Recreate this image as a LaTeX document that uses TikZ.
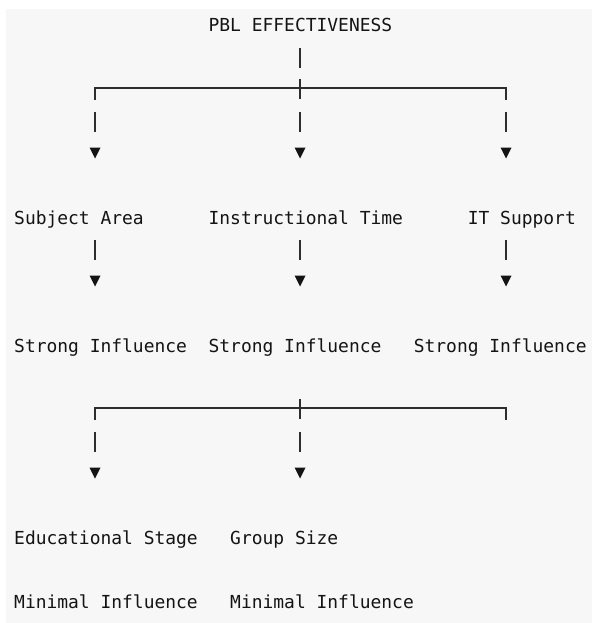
\documentclass[tikz,border=0pt]{standalone}
\usepackage{fontspec}
\setmonofont{DejaVu Sans Mono}
\definecolor{bg}{HTML}{F7F7F7}
\definecolor{ink}{HTML}{141414}
\definecolor{wirec}{HTML}{2E2E2E}
\newcommand\mybar[2]{\draw[wire] (#1,{#2-16}) -- (#1,{#2+4});}
\newcommand\mytri[2]{\fill[ink] ({#1-5.5},{#2-12.5}) -- ({#1+5.5},{#2-12.5}) -- (#1,{#2-1.5}) -- cycle;}
\begin{document}
\begin{tikzpicture}[x=1pt,y=-1pt,
  txt/.style={anchor=base west, inner sep=0pt, font=\ttfamily\fontsize{17.94}{20}\selectfont, text=ink},
  wire/.style={draw=wirec, line width=1.5pt}]
\useasboundingbox (0,0) rectangle (593,623);
\fill[bg] (6,9) rectangle (592,623);
% column centres
\def\cA{95}
\def\cB{300}
\def\cC{506}
% texts
\node[txt] (pbl)   at (208.4,32)  {PBL EFFECTIVENESS};
\node[txt] (subj)  at (14,224)    {Subject Area};
\node[txt] (instr) at (208.4,224) {Instructional Time};
\node[txt] (its)   at (467.6,224) {IT Support};
\node[txt] (s1)    at (14,352)    {Strong Influence};
\node[txt] (s2)    at (208.4,352) {Strong Influence};
\node[txt] (s3)    at (413.6,352) {Strong Influence};
\node[txt] (edu)   at (14,544)    {Educational Stage};
\node[txt] (grp)   at (230,544)   {Group Size};
\node[txt] (m1)    at (14,608)    {Minimal Influence};
\node[txt] (m2)    at (230,608)   {Minimal Influence};
% first bracket
\mybar{\cB}{64}
\coordinate (b1l) at (\cA,88);
\coordinate (b1r) at (\cC,88);
\draw[wire, line width=1.3pt] (\cA,100) -- (b1l) -- (b1r) -- (\cC,100);
\draw[wire] (\cB,79) -- (\cB,99);
\mybar{\cA}{128}\mybar{\cB}{128}\mybar{\cC}{128}
\mytri{\cA}{160}\mytri{\cB}{160}\mytri{\cC}{160}
% second level
\mybar{\cA}{256}\mybar{\cB}{256}\mybar{\cC}{256}
\mytri{\cA}{288}\mytri{\cB}{288}\mytri{\cC}{288}
% second bracket
\coordinate (b2l) at (\cA,408);
\coordinate (b2r) at (\cC,408);
\draw[wire, line width=1.3pt] (\cA,420) -- (b2l) -- (b2r) -- (\cC,420);
\draw[wire] (\cB,399) -- (\cB,419);
\mybar{\cA}{448}\mybar{\cB}{448}
\mytri{\cA}{480}\mytri{\cB}{480}
\end{tikzpicture}
\end{document}
